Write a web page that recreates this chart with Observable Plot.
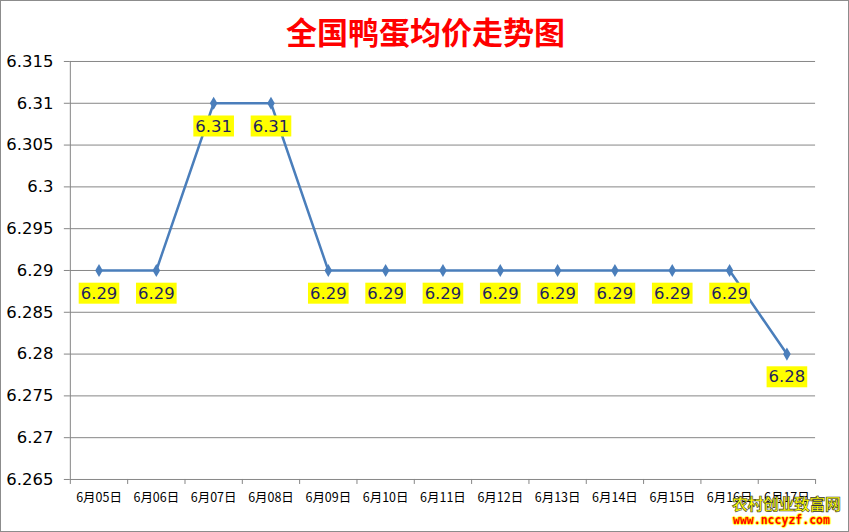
<!DOCTYPE html>
<html><head><meta charset="utf-8">
<script src="https://cdn.jsdelivr.net/npm/d3@7"></script>
<script src="https://cdn.jsdelivr.net/npm/@observablehq/plot@0.6"></script>
<style>
body{margin:0;background:#fff;}
#wrap{position:relative;width:849px;height:532px;box-sizing:border-box;border:1px solid #8c8c8c;overflow:hidden;background:#fff;}
#title{position:absolute;left:0;top:0;width:849px;height:50px;text-align:center;line-height:60px;font-family:"Noto Sans CJK SC",sans-serif;font-weight:bold;font-size:31px;color:#ff0000;}
#chart{position:absolute;left:-2px;top:49px;}
#wm1{position:absolute;left:731px;top:492px;font-family:"Noto Sans CJK SC",sans-serif;font-size:16px;font-weight:bold;color:#ffff00;-webkit-text-stroke:0.6px #333;letter-spacing:-0.5px;line-height:20px;}
#wm2{position:absolute;left:732px;top:512px;font-family:"DejaVu Sans Mono",monospace;font-size:11.5px;font-weight:bold;color:#ff0000;text-shadow:0 0 1px #ff0,1px 0 1px #ff0,-1px 0 1px #ff0,0 1px 1px #ff0,0 -1px 1px #ff0;line-height:14px;}
</style></head>
<body>
<div id="wrap">
<div id="title">全国鸭蛋均价走势图</div>
<div id="chart"></div>
<div id="wm1">农村创业致富网</div>
<div id="wm2">www.nccyzf.com</div>
</div>
<script>
const dates = ["6月05日","6月06日","6月07日","6月08日","6月09日","6月10日","6月11日","6月12日","6月13日","6月14日","6月15日","6月16日","6月17日"];
const prices = [6.29,6.29,6.31,6.31,6.29,6.29,6.29,6.29,6.29,6.29,6.29,6.29,6.28];
const yTicks = [6.265,6.27,6.275,6.28,6.285,6.29,6.295,6.3,6.305,6.31,6.315];

const data = dates.map((d,i)=>({i, x:i+0.5, date:d, price:prices[i]}));
const bounds = d3.range(0, dates.length+1);
const fmt = v => String(+v.toFixed(3));

const plot = Plot.plot({
  width: 851,
  height: 482,
  marginLeft: 71,
  marginRight: 33,
  marginTop: 11,
  marginBottom: 52,
  style: {background:"transparent", overflow:"visible"},
  x: {domain:[0, dates.length], axis:null},
  y: {domain:[6.265, 6.315], axis:null},
  marks: [
    Plot.gridY(yTicks, {stroke:"#868686", strokeOpacity:1, strokeWidth:1}),
    Plot.axisY(yTicks, {label:null, tickSize:6, stroke:"#868686", tickFormat:fmt, fontSize:16.5, fontFamily:"DejaVu Sans", fill:"#000", tickPadding:11}),
    Plot.ruleX([0], {stroke:"#868686"}),
    Plot.axisX(bounds, {label:null, tickSize:5, stroke:"#868686", tickFormat:()=>""}),
    Plot.axisX(data.map(d=>d.x), {label:null, tickSize:0, tickPadding:14, tickFormat:v=>dates[Math.round(v-0.5)], fontSize:12.5, fontFamily:"Noto Sans CJK SC", fill:"#000"}),
    Plot.line(data, {x:"x", y:"price", stroke:"#4a7ebb", strokeWidth:2.5}),
    Plot.dot(data, {x:"x", y:"price", symbol:"diamond", r:4, fill:"#4a7ebb", stroke:"none"}),
    Plot.text(data, {x:"x", y:"price", text:d=>fmt(d.price), dy:23, fontSize:16.5, fontFamily:"DejaVu Sans", fill:"#1f1f5f", className:"vlabel"})
  ]
});
document.getElementById("chart").appendChild(plot);

// yellow label backgrounds
const g = plot.querySelector("g.vlabel") || plot.querySelector(".vlabel");
if (g) {
  const texts = g.querySelectorAll("text");
  texts.forEach(t => {
    const b = t.getBBox();
    const r = document.createElementNS("http://www.w3.org/2000/svg","rect");
    r.setAttribute("x", b.x - 2);
    r.setAttribute("y", b.y - 1);
    r.setAttribute("width", b.width + 4);
    r.setAttribute("height", b.height + 2);
    r.setAttribute("fill", "#ffff00");
    if (t.getAttribute("transform")) r.setAttribute("transform", t.getAttribute("transform"));
    g.insertBefore(r, t);
  });
}
</script>
</body></html>
